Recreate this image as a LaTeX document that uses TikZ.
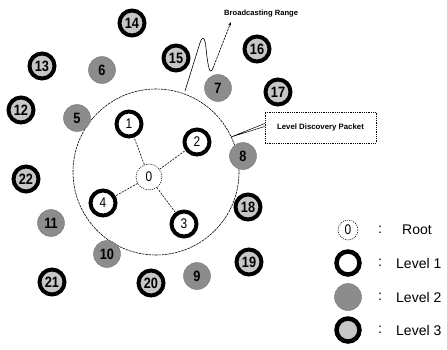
\documentclass[tikz,border=0pt]{standalone}
\usepackage{fontspec}
\setmainfont{Liberation Sans}
\newfontfamily\numfont[FakeStretch=0.85]{Liberation Sans}
\usetikzlibrary{arrows.meta}
\begin{document}
\begin{tikzpicture}[x=1pt,y=-1pt,
  base/.style={circle, inner sep=0pt, font=\numfont\fontsize{14}{14}\selectfont},
  rootnode/.style={base, draw, dashed, dash pattern=on 1.2pt off 1pt, line width=0.5pt, fill=white, minimum size=26pt},
  lvlone/.style={base, draw, line width=4pt, fill=white, minimum size=25pt},
  lvltwo/.style={base, fill=black!45, draw=black!55, line width=0.4pt, minimum size=27pt, font=\numfont\fontsize{15}{15}\selectfont\bfseries},
  lvlthree/.style={base, draw, line width=4pt, fill=black!22, minimum size=25pt, font=\numfont\fontsize{15}{15}\selectfont\bfseries},
  link/.style={dashed, dash pattern=on 2pt off 1.2pt, line width=0.6pt},
  rangeline/.style={dash pattern=on 2.5pt off 0.8pt, line width=0.6pt},
  legtext/.style={anchor=west, font=\fontsize{14}{14}\selectfont, inner sep=0pt}
]
\useasboundingbox (0,0) rectangle (447,349);

% broadcasting range of the root
\draw[rangeline] (156,172) circle (83);

% root and level-1 nodes
\node[rootnode] (n0) at (149,177) {0};
\node[lvlone] (n1) at (129,124) {1};
\node[lvlone] (n2) at (197,142) {2};
\node[lvlone] (n3) at (184,224) {3};
\node[lvlone] (n4) at (103,203) {4};
\foreach \k in {1,2,3,4} \draw[link] (n0) -- (n\k);

% level-2 nodes
\node[lvltwo] (n5) at (77,118) {5};
\node[lvltwo] (n6) at (102,70) {6};
\node[lvltwo] (n7) at (218,88) {7};
\node[lvltwo] (n8) at (243,156) {8};
\node[lvltwo] (n9) at (197,276) {9};
\node[lvltwo] (n10) at (107,254) {10};
\node[lvltwo] (n11) at (51,223) {11};

% level-3 nodes
\node[lvlthree] (n12) at (21,110) {12};
\node[lvlthree] (n13) at (42,66) {13};
\node[lvlthree] (n14) at (132,23) {14};
\node[lvlthree] (n15) at (176,58) {15};
\node[lvlthree] (n16) at (257,49) {16};
\node[lvlthree] (n17) at (278,92) {17};
\node[lvlthree] (n18) at (248,207) {18};
\node[lvlthree] (n19) at (249,262) {19};
\node[lvlthree] (n20) at (151,283) {20};
\node[lvlthree] (n21) at (52,282) {21};
\node[lvlthree] (n22) at (26,179) {22};

% "Broadcasting Range" callout
\node[anchor=west, inner sep=0pt, font=\fontsize{7.6}{8}\selectfont\bfseries] (brtext) at (224,14) {Broadcasting Range};
\coordinate (brstart) at (185,91);
\coordinate (brtip) at (231,22);
\draw[line width=0.6pt] (brstart) -- (199,46) .. controls (202,35) and (205,36) .. (206,48)
  .. controls (208,68) and (210,76) .. (213,68);
\draw[rangeline, -{Stealth[length=4pt,width=3pt]}] (213,68) -- (brtip);

% "Level Discovery Packet" callout
\node[draw, dash pattern=on 1pt off 0.8pt, line width=0.6pt, minimum width=111pt, minimum height=31pt,
  font=\fontsize{7.8}{8}\selectfont\bfseries] (ldp) at (320.5,127.5) {Level Discovery Packet};
\coordinate (ldptip) at (231,137);
\draw[line width=0.5pt] ([yshift=1pt]ldp.west) -- (ldptip) -- ([yshift=4pt]ldp.west);

% legend
\node[rootnode, minimum size=20pt] (lg0) at (348,230) {0};
\node[lvlone, line width=4.5pt, minimum size=23pt] (lg1) at (348,263) {};
\node[lvltwo, minimum size=27pt] (lg2) at (348,297) {};
\node[lvlthree, line width=4.5pt, minimum size=23pt] (lg3) at (348,330) {};
\node[legtext] at (378,230) {:};
\node[legtext] at (378,263) {:};
\node[legtext] at (378,297) {:};
\node[legtext] at (378,330) {:};
\node[legtext] at (402,230) {Root};
\node[legtext] at (396,263) {Level 1};
\node[legtext] at (396,297) {Level 2};
\node[legtext] at (396,330) {Level 3};
\end{tikzpicture}
\end{document}
